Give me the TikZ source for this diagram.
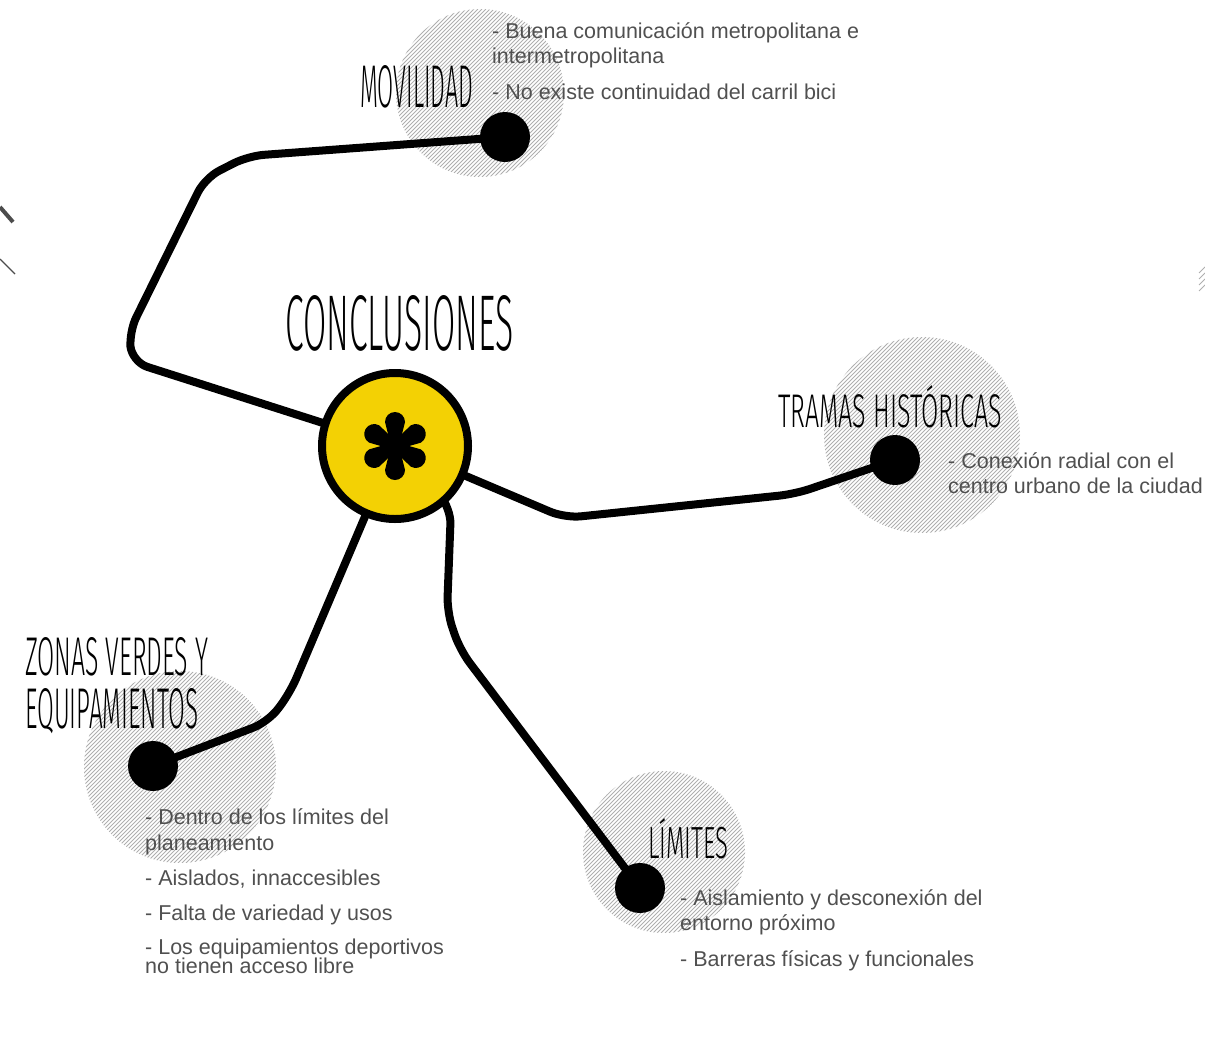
\documentclass[tikz,border=0pt]{standalone}
\usepackage{fontspec}
\setmainfont{Liberation Sans}
\IfFontExistsTF{Fira Sans Light}{\newfontfamily\thinfont{Fira Sans Light}}{%
  \IfFontExistsTF{Lato Light}{\newfontfamily\thinfont{Lato Light}}{%
    \IfFontExistsTF{Poppins Light}{\newfontfamily\thinfont{Poppins Light}}{%
      \newfontfamily\thinfont{Liberation Sans}}}}
\usepackage{graphicx}
\usetikzlibrary{backgrounds,fadings}
\definecolor{hubyellow}{RGB}{243,209,4}
\definecolor{txtgray}{RGB}{80,80,80}
\definecolor{hatchgray}{RGB}{175,175,175}
\newcommand\hatchdisk[3]{%
  \begin{scope}
    \path[scope fading=circle with fuzzy edge 15 percent, fit fading=true] (#1,#2) circle ({1.2*#3});
    \clip (#1,#2) circle (#3);
    \foreach \i in {-150,-146,...,150}
      \draw[hatch] ({#1+\i-#3},{#2+#3}) -- ({#1+\i+#3},{#2-#3});
  \end{scope}}
\newcommand\ttl[3]{\resizebox{#1pt}{#2pt}{\thinfont #3}}
\tikzset{
  hatch/.style={draw=hatchgray, line width=0.9pt},
  conn/.style={draw=black, line width=8pt, rounded corners=16pt},
  dotnode/.style={circle, fill=black, inner sep=0pt, minimum size=50pt},
  hubnode/.style={circle, draw=black, line width=8pt, fill=hubyellow, inner sep=0pt, minimum size=146pt},
  titlenode/.style={inner sep=0pt, anchor=north west},
  bodynode/.style={inner sep=0pt, anchor=base west, text=txtgray, font=\fontsize{21.5}{26}\selectfont},
}
\begin{document}
\begin{tikzpicture}[x=1pt,y=-1pt]
\useasboundingbox (0,0) rectangle (1205,1042);
% nodes
\node[hubnode] (hub) at (395,446) {};
\node[dotnode] (mov) at (505,137) {};
\node[dotnode] (tra) at (895,460) {};
\node[dotnode] (zon) at (153,766) {};
\node[dotnode] (lim) at (640,888) {};
% asterisk
\foreach \a in {30,90,...,330}
  \fill[black, shift={(hub.center)}, rotate=\a] (0,-4) -- (24,-10) arc (-90:90:10) -- (0,4) -- cycle;
\fill[black] (hub.center) circle (7);
\begin{pgfonlayer}{background}
% hatched disks
\hatchdisk{480}{93}{84}
\hatchdisk{922}{435}{98}
\hatchdisk{180}{767}{96}
\hatchdisk{664}{852}{81}
% stray marks
\draw[draw=black!70, line width=4pt] (0,207) -- (13,222);
\draw[draw=black!70, line width=1.3pt] (0,259) -- (15,274);
\foreach \yy in {270,276,282,288} \draw[hatch] (1199,\yy+3) -- (1205,\yy-3);
% connectors
\draw[conn] (hub.center) -- (132,362) -- (129,332) -- (205,178) -- (248,156) -- (mov.center);
\draw[conn] (hub.center) -- (565,518) -- (795,494) -- (tra.center);
\draw[conn] (hub.center) -- (290,693) -- (268,722) -- (zon.center);
\draw[conn] (hub.center) -- (451,508) -- (447,612) -- (460,650) -- (lim.center);
\end{pgfonlayer}
% titles
\node[titlenode] (tconc) at (285,295) {\ttl{228}{55}{CONCLUSIONES}};
\node[titlenode] (tmov) at (360,65) {\ttl{113}{42}{MOVILIDAD}};
\node[titlenode] (ttra) at (778,385) {\ttl{224}{42}{TRAMAS HISTÓRICAS}};
\node[titlenode] (tzon1) at (25,637) {\ttl{183}{38}{ZONAS VERDES Y}};
\node[titlenode] (tzon2) at (25,688) {\ttl{173}{40}{EQUIPAMIENTOS}};
\node[titlenode] (tlim) at (648,818) {\ttl{80}{40}{LÍMITES}};
% body texts
\node[bodynode] (m1) at (492,38) {- Buena comunicación metropolitana e};
\node[bodynode] (m2) at (492,63) {intermetropolitana};
\node[bodynode] (m3) at (492,99) {- No existe continuidad del carril bici};
\node[bodynode] (t1) at (948,468) {- Conexión radial con el};
\node[bodynode] (t2) at (948,493) {centro urbano de la ciudad};
\node[bodynode] (z1) at (145,824) {- Dentro de los límites del};
\node[bodynode] (z2) at (145,850) {planeamiento};
\node[bodynode] (z3) at (145,885) {- Aislados, innaccesibles};
\node[bodynode] (z4) at (145,920) {- Falta de variedad y usos};
\node[bodynode] (z5) at (145,954) {- Los equipamientos deportivos};
\node[bodynode] (z6) at (145,973) {no tienen acceso libre};
\node[bodynode] (l1) at (680,905) {- Aislamiento y desconexión del};
\node[bodynode] (l2) at (680,930) {entorno próximo};
\node[bodynode] (l3) at (680,966) {- Barreras físicas y funcionales};
\end{tikzpicture}
\end{document}
